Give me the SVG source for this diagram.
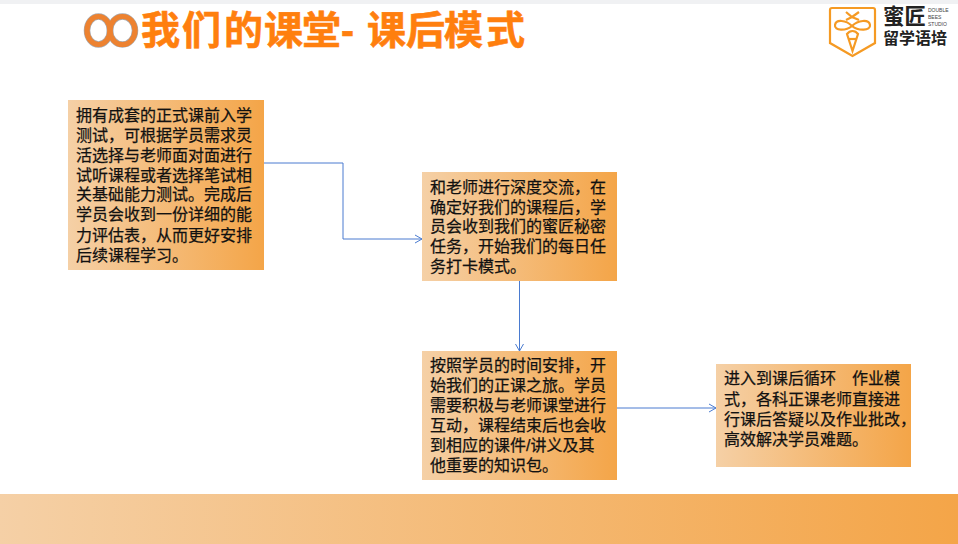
<svg xmlns="http://www.w3.org/2000/svg" width="958" height="544" viewBox="0 0 958 544">
<style>
.t{font-family:"Liberation Sans","Noto Sans CJK SC",sans-serif;font-size:16px;fill:#111;stroke:#111;stroke-width:.25}
.box{fill:url(#g)}
.c{fill:none;stroke:#4a7bd0;stroke-width:1}
.h{font-family:"Liberation Sans","Noto Sans CJK SC",sans-serif;font-weight:700;font-size:39px;fill:#ff7f0e;stroke:#ff7f0e;stroke-width:.6}
.lg{font-family:"Liberation Sans","Noto Sans CJK SC",sans-serif;font-weight:700;fill:#222}
.lgs{font-family:"Liberation Sans",sans-serif;font-size:5px;fill:#444}
.bee{fill:none;stroke:#f59a23;stroke-width:2.200}
</style>
<defs>
<linearGradient id="g"><stop offset="0" stop-color="#f5d0a6"/><stop offset="1" stop-color="#f4a548"/></linearGradient>
<marker id="a" markerWidth="9" markerHeight="10" refX="8" refY="5" orient="auto" markerUnits="userSpaceOnUse"><path d="M1 1L8 5L1 9" fill="none" stroke="#4a7bd0"/></marker>
</defs>
<rect width="958" height="544" fill="#fff"/>
<rect width="958" height="4" fill="#f0f1f3"/>
<rect id="footer" y="494" width="958" height="50" fill="url(#g)"/>
<g id="rings" fill="none">
<ellipse cx="98.500" cy="30.500" rx="11.500" ry="14" stroke="#a9a9ad" stroke-width="6.500"/>
<ellipse cx="122.500" cy="30.500" rx="12.500" ry="14" stroke="#a9a9ad" stroke-width="6.500"/>
<ellipse cx="98.500" cy="30.500" rx="11.500" ry="14" stroke="#ed8230" stroke-width="5.200"/>
<ellipse cx="122.500" cy="30.500" rx="12.500" ry="14" stroke="#ed8230" stroke-width="5.200"/>
</g>
<text id="title" class="h" y="44" x="141 182 224 264 302 341 367 406 444 486">我们的课堂-课后模式</text>
<g id="logo">
<path class="bee" d="M832 8H873Q875 8 875 10V43L852.500 56L830 43V10Q830 8 832 8Z"/>
<path class="bee" d="M852 26C846 20 836 19 835 25C834 31 846 31 852 26C858 31 871 31 870 25C869 19 858 20 852 26Z"/>
<path class="bee" d="M846 12L852 17L859 12M846 20L852 17L859 20"/>
<path class="bee" d="M847 34C850 30 855 30 858 34L852.500 51Z"/>
<path class="bee" d="M849 39H856"/>
<text class="lg" x="883" y="24" font-size="21.500">蜜匠</text>
<text class="lg" x="883" y="44" font-size="16">留学语培</text>
<text class="lgs" x="928" y="12">DOUBLE</text><text class="lgs" x="928" y="19">BEES</text><text class="lgs" x="928" y="26">STUDIO</text>
</g>
<g id="connectors">
<path class="c" d="M264 163H343V239H422" marker-end="url(#a)"/>
<path class="c" d="M519.500 281V351" marker-end="url(#a)"/>
<path class="c" d="M617 408H716" marker-end="url(#a)"/>
</g>
<g id="n1"><rect class="box" x="68" y="100" width="196" height="170"/>
<text class="t"><tspan x="76" y="121">拥有成套的正式课前入学</tspan><tspan x="76" y="141">测试，可根据学员需求灵</tspan><tspan x="76" y="161">活选择与老师面对面进行</tspan><tspan x="76" y="181">试听课程或者选择笔试相</tspan><tspan x="76" y="200">关基础能力测试。完成后</tspan><tspan x="76" y="220">学员会收到一份详细的能</tspan><tspan x="76" y="241">力评估表，从而更好安排</tspan><tspan x="76" y="261">后续课程学习。</tspan></text></g>
<g id="n2"><rect class="box" x="422" y="172" width="195" height="109"/>
<text class="t"><tspan x="430" y="193">和老师进行深度交流，在</tspan><tspan x="430" y="213">确定好我们的课程后，学</tspan><tspan x="430" y="232">员会收到我们的蜜匠秘密</tspan><tspan x="430" y="252">任务，开始我们的每日任</tspan><tspan x="430" y="272">务打卡模式。</tspan></text></g>
<g id="n3"><rect class="box" x="422" y="351" width="195" height="129"/>
<text class="t"><tspan x="430" y="371">按照学员的时间安排，开</tspan><tspan x="430" y="391">始我们的正课之旅。学员</tspan><tspan x="430" y="411">需要积极与老师课堂进行</tspan><tspan x="430" y="431">互动，课程结束后也会收</tspan><tspan x="430" y="451">到相应的课件/讲义及其</tspan><tspan x="430" y="471">他重要的知识包。</tspan></text></g>
<g id="n4"><rect class="box" x="716" y="364" width="195" height="103"/>
<text class="t"><tspan x="724" y="384">进入到课后循环　作业模</tspan><tspan x="724" y="405">式，各科正课老师直接进</tspan><tspan x="724" y="425">行课后答疑以及作业批改，</tspan><tspan x="724" y="445">高效解决学员难题。</tspan></text></g>
</svg>
